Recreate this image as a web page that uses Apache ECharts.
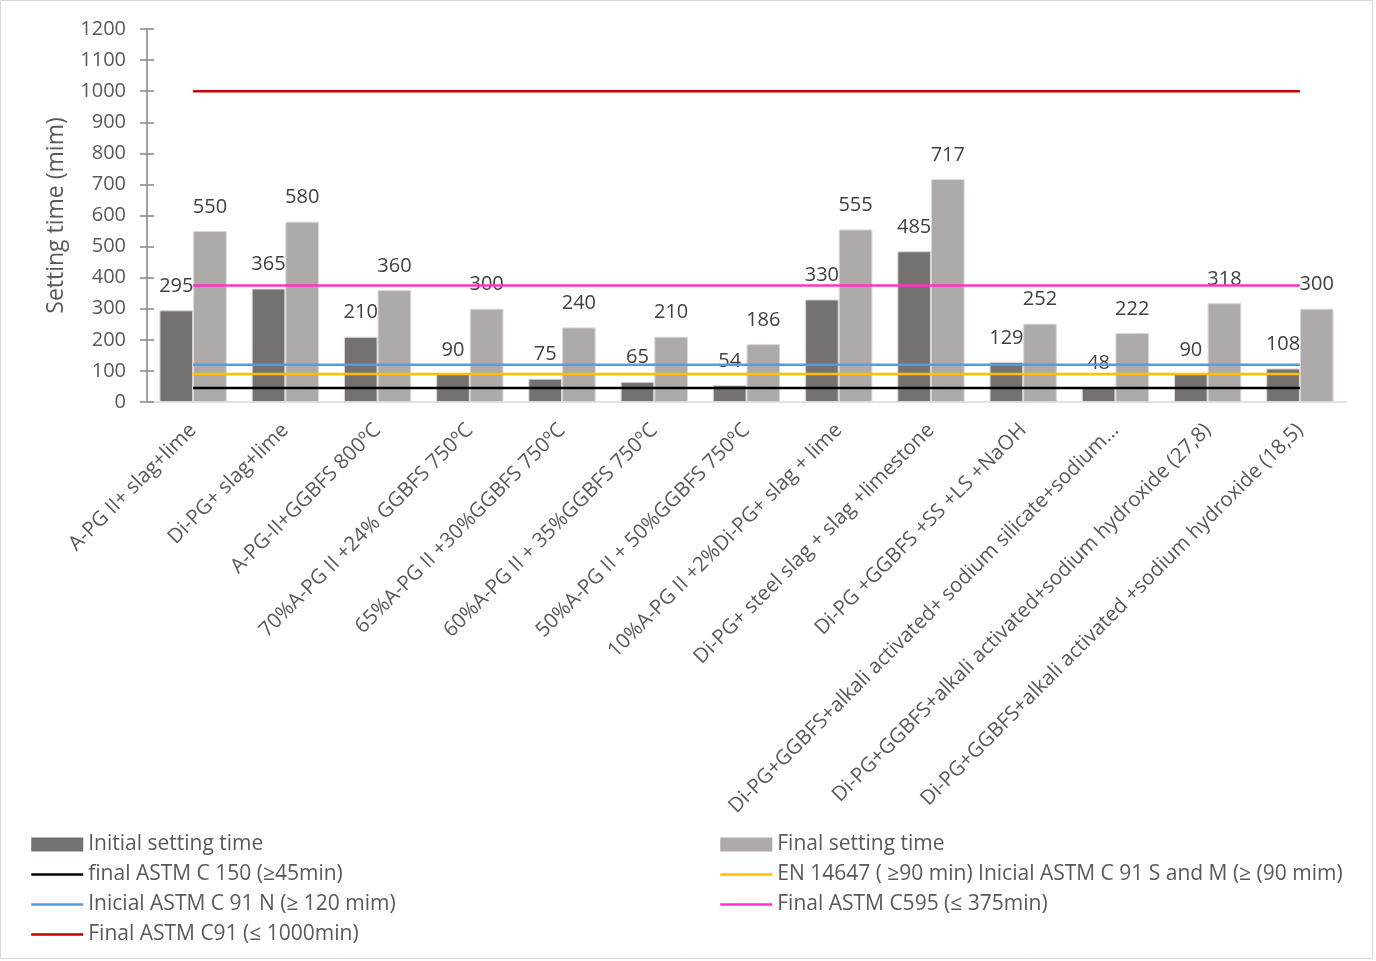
<!DOCTYPE html>
<html>
<head>
<meta charset="utf-8">
<script src="https://cdn.jsdelivr.net/npm/echarts@6/dist/echarts.min.js"></script>
<style>
  html, body { margin: 0; padding: 0; background: #fff; }
  #chart { width: 1376px; height: 961px; }
</style>
</head>
<body>
<div id="chart"></div>
<script>
// Mix designs
const categories = [
  'A-PG II+ slag+lime',
  'Di-PG+ slag+lime',
  'A-PG-II+GGBFS 800ºC',
  '70%A-PG II +24% GGBFS 750ºC',
  '65%A-PG II +30%GGBFS 750ºC',
  '60%A-PG II + 35%GGBFS 750ºC',
  '50%A-PG II + 50%GGBFS 750ºC',
  '10%A-PG II +2%Di-PG+ slag + lime',
  'Di-PG+ steel slag + slag +limestone',
  'Di-PG +GGBFS +SS +LS +NaOH',
  'Di-PG+GGBFS+alkali activated+ sodium silicate+sodium...',
  'Di-PG+GGBFS+alkali activated+sodium hydroxide (27,8)',
  'Di-PG+GGBFS+alkali activated +sodium hydroxide (18,5)'
];

// Setting times (min)
const initialSetting = [295, 365, 210, 90, 75, 65, 54, 330, 485, 129, 48, 90, 108];
const finalSetting   = [550, 580, 360, 300, 240, 210, 186, 555, 717, 252, 222, 318, 300];

// Standard limits (min)
const limitC150   = 45;
const limitEN     = 90;
const limitC91N   = 120;
const limitC595   = 375;
const limitC91    = 1000;

const yTicks = { min: 0, max: 1200, interval: 100 };

const FONT = '"Open Sans", sans-serif';
const flat = v => categories.map(() => v);

const chart = echarts.init(document.getElementById('chart'), null, { renderer: 'canvas' });

const labelStyle = {
  show: true, position: 'top', distance: 14,
  color: '#404040', fontSize: 20, fontFamily: FONT
};

function limitLine(name, value, color) {
  return {
    name, type: 'line', data: flat(value), symbol: 'none',
    lineStyle: { color, width: 2.5 }, itemStyle: { color },
    z: 3, silent: true
  };
}

// legend entry for a limit line: line only, no marker
const lineEntry = name => ({ name, itemStyle: { opacity: 0 } });
// legend entry for a bar series: plain filled block
const barEntry = name => ({ name, icon: 'rect', itemStyle: { borderWidth: 0 } });

const legendBase = {
  orient: 'vertical', top: 834, itemGap: 9, padding: 0,
  itemWidth: 52, itemHeight: 14,
  lineStyle: { width: 2.5 },
  textStyle: { color: '#595959', fontSize: 21, fontFamily: FONT }
};

chart.setOption({
  animation: false,
  backgroundColor: '#fff',
  textStyle: { fontFamily: FONT },
  grid: { left: 147, right: 30, top: 29, bottom: 559, containLabel: false },
  graphic: [{
    type: 'rect', shape: { x: 0.5, y: 0.5, width: 1372, height: 958 },
    style: { fill: 'none', stroke: '#D9D9D9', lineWidth: 1 }, silent: true, z: -10
  }],
  xAxis: {
    type: 'category', data: categories, boundaryGap: true,
    axisLine: { lineStyle: { color: '#D9D9D9', width: 1.5 } },
    axisTick: { show: false },
    axisLabel: {
      interval: 0, rotate: 45, color: '#595959', fontSize: 20.5,
      fontFamily: FONT, margin: 25
    }
  },
  yAxis: [{
    type: 'value', min: yTicks.min, max: yTicks.max, interval: yTicks.interval,
    name: 'Setting time (mim)', nameLocation: 'middle', nameGap: 79, nameRotate: 90,
    nameTextStyle: { color: '#595959', fontSize: 23, fontFamily: FONT },
    axisLine: { show: true, lineStyle: { color: '#868686', width: 1.5 } },
    axisTick: { show: true, length: 7, lineStyle: { color: '#868686', width: 1.5 } },
    axisLabel: {
      color: '#595959', fontSize: 20, fontFamily: FONT, margin: 21,
      formatter: v => String(v)
    },
    splitLine: { show: false }
  }, {
    type: 'value', min: yTicks.min, max: yTicks.max, interval: yTicks.interval,
    position: 'left',
    axisLine: { show: false },
    axisTick: { show: true, inside: true, length: 7, lineStyle: { color: '#868686', width: 1.5 } },
    axisLabel: { show: false },
    splitLine: { show: false }
  }],
  legend: [Object.assign({}, legendBase, {
    left: 30,
    data: [
      barEntry('Initial setting time'),
      lineEntry('final ASTM C 150 (≥45min)'),
      lineEntry('Inicial ASTM C 91 N (≥ 120 mim)'),
      lineEntry('Final ASTM C91 (≤ 1000min)')
    ]
  }), Object.assign({}, legendBase, {
    left: 719,
    data: [
      barEntry('Final setting time'),
      lineEntry('EN 14647 ( ≥90 min) Inicial ASTM C 91 S and M (≥ (90 mim)'),
      lineEntry('Final ASTM C595 (≤ 375min)')
    ]
  })],
  series: [
    {
      name: 'Initial setting time', type: 'bar', data: initialSetting,
      barGap: '0%', barCategoryGap: '27%',
      itemStyle: { color: '#767171', borderColor: '#D9D9D9', borderWidth: 1 },
      label: labelStyle, z: 2
    },
    {
      name: 'Final setting time', type: 'bar', data: finalSetting,
      itemStyle: { color: '#AEAAAA', borderColor: '#D9D9D9', borderWidth: 1 },
      label: labelStyle, z: 2
    },
    limitLine('final ASTM C 150 (≥45min)', limitC150, '#000000'),
    limitLine('EN 14647 ( ≥90 min) Inicial ASTM C 91 S and M (≥ (90 mim)', limitEN, '#FFC000'),
    limitLine('Inicial ASTM C 91 N (≥ 120 mim)', limitC91N, '#5B9BD5'),
    limitLine('Final ASTM C595 (≤ 375min)', limitC595, '#FF33CC'),
    limitLine('Final ASTM C91 (≤ 1000min)', limitC91, '#C00000')
  ]
});
</script>
</body>
</html>
